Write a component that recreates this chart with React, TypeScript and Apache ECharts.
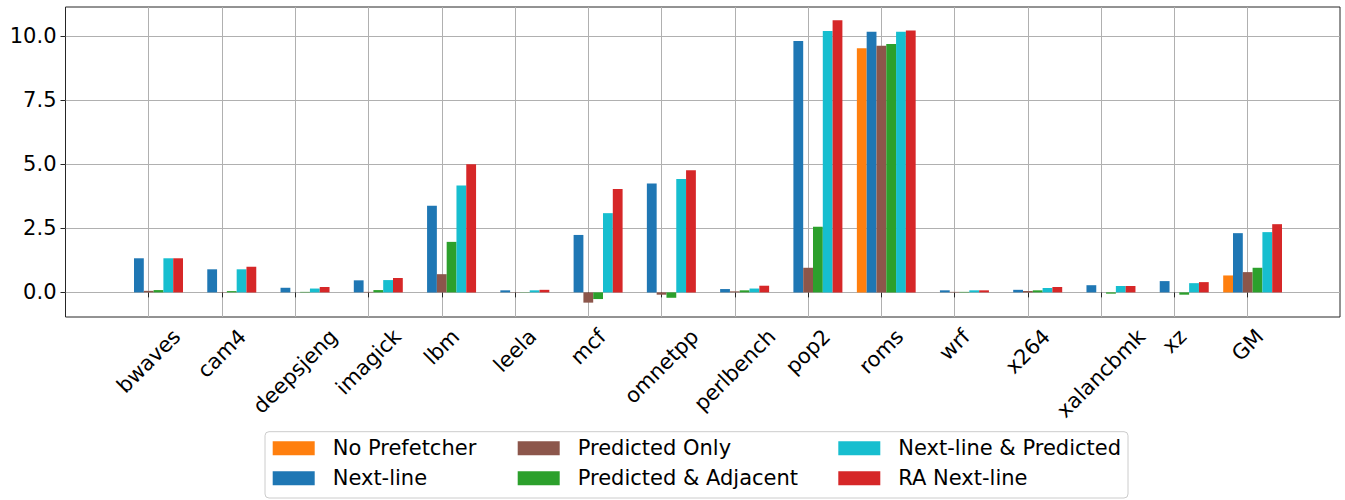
import React, { useEffect, useRef } from 'react';
import * as echarts from 'echarts';

const categories = ['bwaves', 'cam4', 'deepsjeng', 'imagick', 'lbm', 'leela', 'mcf', 'omnetpp', 'perlbench', 'pop2', 'roms', 'wrf', 'x264', 'xalancbmk', 'xz', 'GM'];

const noPrefetcher = [0, 0, 0, 0, 0, 0, 0, 0, 0, 0, 9.52, 0, 0, 0, 0, 0.66];
const nextLine = [1.33, 0.9, 0.18, 0.47, 3.38, 0.08, 2.24, 4.25, 0.13, 9.8, 10.16, 0.08, 0.1, 0.28, 0.44, 2.31];
const predictedOnly = [0.06, 0.01, 0.0, 0.02, 0.71, 0.01, -0.4, -0.09, 0.04, 0.96, 9.62, 0.02, 0.05, 0.0, 0.0, 0.79];
const predictedAdjacent = [0.09, 0.05, 0.02, 0.09, 1.97, 0.01, -0.26, -0.21, 0.08, 2.56, 9.69, 0.02, 0.08, -0.05, -0.09, 0.96];
const nextLinePredicted = [1.33, 0.9, 0.15, 0.48, 4.17, 0.08, 3.09, 4.42, 0.15, 10.19, 10.16, 0.08, 0.17, 0.25, 0.36, 2.35];
const raNextLine = [1.33, 1.0, 0.21, 0.56, 5.0, 0.1, 4.03, 4.76, 0.26, 10.61, 10.21, 0.08, 0.21, 0.25, 0.4, 2.66];

const seriesNames = ['No Prefetcher', 'Next-line', 'Predicted Only', 'Predicted & Adjacent', 'Next-line & Predicted', 'RA Next-line'];
const seriesColors = ['#ff7f0e', '#1f77b4', '#8c564b', '#2ca02c', '#17becf', '#d62728'];
const yTicks = [0, 2.5, 5, 7.5, 10];
const yMin = -0.96;
const yMax = 11.13;

const FONT = '"DejaVu Sans", sans-serif';
const FS = 21;

export default function App() {
  const ref = useRef<HTMLDivElement>(null);
  useEffect(() => {
    const chart = echarts.init(ref.current!, null, { renderer: 'svg' });
    const ctx = document.createElement('canvas').getContext('2d')!;
    ctx.font = `${FS}px ${FONT}`;
    const rich: any = {};
    categories.forEach((c, i) => {
      const L = ctx.measureText(c).width;
      rich['l' + i] = { fontSize: FS, fontFamily: FONT, color: '#000', padding: [L / 2, L / 2, 0, 0] };
    });
    const values = [noPrefetcher, nextLine, predictedOnly, predictedAdjacent, nextLinePredicted, raNextLine];
    const barW = 9.8;
    const series: any[] = [
      { type: 'bar', name: '_pad', data: [], barWidth: barW, barGap: '0%', xAxisIndex: 1, yAxisIndex: 1, clip: false, silent: true },
      ...values.map((d, i) => ({
        type: 'bar',
        name: seriesNames[i],
        data: d,
        barWidth: barW,
        barGap: '0%',
        xAxisIndex: 1,
        yAxisIndex: 1,
        clip: false,
        itemStyle: { color: seriesColors[i] },
      })),
    ];
    const legendCols = [[0, 1], [2, 3], [4, 5]];
    const legendLefts = [272.7, 517.7, 838.3];
    const legends = legendCols.map((col, k) => ({
      orient: 'vertical',
      left: legendLefts[k],
      top: 437.8,
      padding: 0,
      itemWidth: 42,
      itemHeight: 14,
      itemGap: 9,
      icon: 'rect',
      data: col.map((i) => seriesNames[i]),
      textStyle: { fontSize: FS, fontFamily: FONT, color: '#000', lineHeight: 21, padding: [0, 0, 0, 13] },
    }));
    chart.setOption({
      animation: false,
      backgroundColor: '#fff',
      grid: [
        { left: 65.5, top: 7, width: 1274.5, height: 310, show: true, borderColor: '#262626', borderWidth: 1, backgroundColor: 'transparent' },
        { left: 148.7, top: 7, right: 97.3, height: 310 },
      ],
      xAxis: [
        { type: 'value', gridIndex: 0, show: false, min: 0, max: 1 },
        {
          type: 'category',
          gridIndex: 1,
          data: categories,
          boundaryGap: false,
          axisLine: { show: false },
          axisTick: { show: true, length: 5, lineStyle: { color: '#262626' } },
          splitLine: { show: true, lineStyle: { color: '#b0b0b0', width: 1 } },
          axisLabel: {
            interval: 0,
            rotate: 45,
            align: 'center',
            verticalAlign: 'middle',
            margin: 16,
            formatter: (v: string, i: number) => `{l${i}|${v}}`,
            rich,
          },
        },
      ],
      yAxis: [
        {
          type: 'value',
          gridIndex: 0,
          min: yMin,
          max: yMax,
          axisLine: { show: false },
          axisTick: { show: true, length: 5, lineStyle: { color: '#262626' }, customValues: yTicks },
          splitLine: { show: true, lineStyle: { color: '#b0b0b0', width: 1 } },
          axisLabel: {
            customValues: yTicks,
            margin: 9,
            fontSize: FS,
            fontFamily: FONT,
            color: '#000',
            formatter: (v: number) => v.toFixed(1),
          },
        },
        { type: 'value', gridIndex: 1, min: yMin, max: yMax, show: false, splitLine: { show: false } },
      ],
      legend: legends,
      graphic: [
        {
          type: 'rect',
          z: -1,
          shape: { x: 265, y: 431.7, width: 863, height: 66.3, r: 4 },
          style: { fill: '#fff', stroke: '#cccccc', lineWidth: 1 },
        },
      ],
      series,
    });
    return () => chart.dispose();
  }, []);
  return <div ref={ref} style={{ position: 'fixed', left: 0, top: 0, width: 1345, height: 500 }} />;
}
